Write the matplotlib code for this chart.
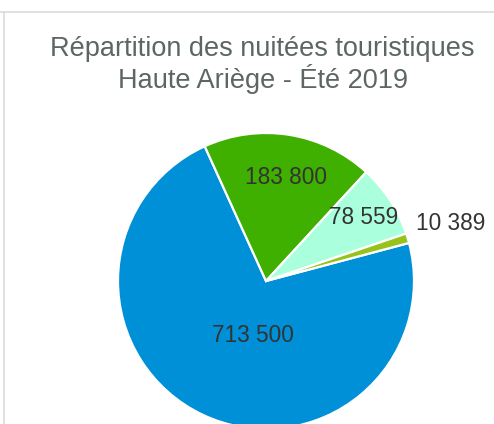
import numpy as np
import matplotlib
matplotlib.use("Agg")
import matplotlib.pyplot as plt

# Data
categories = ["Cat A", "Cat B", "Cat C", "Cat D"]
values = [713500, 183800, 78559, 10389]
labels = ["713 500", "183 800", "78 559", "10 389"]
colors = ["#0090d8", "#3fb000", "#aaffdc", "#97c21c"]
title_lines = ["Répartition des nuitées touristiques", "Haute Ariège - Été 2019"]

# label placement (fraction of radius, angle tweak in degrees ccw)
label_r = [0.37, 0.722, 0.793, 1.312]
label_dang = [11, -1.75, 0.4, 0.9]

W, H = 494, 424
fig = plt.figure(figsize=(W / 100, H / 100), dpi=100)
ax = fig.add_axes([0, 0, 1, 1])

cx, cy, R = 266, H - 281, 148
start = 90 - 75.1  # clockwise start
wedges, _ = ax.pie(values, colors=colors, startangle=start, counterclock=False,
                   center=(cx, cy), radius=R,
                   wedgeprops=dict(edgecolor="white", linewidth=1.6))
ax.set_xlim(0, W)
ax.set_ylim(0, H)
ax.set_aspect("equal")
ax.axis("off")

fs = 16.3
half_digit = 0.358 * fs * 100 / 72
for w, lab, rf, da in zip(wedges, labels, label_r, label_dang):
    mid = np.deg2rad((w.theta1 + w.theta2) / 2 + da)
    x = cx + rf * R * np.cos(mid)
    y = cy + rf * R * np.sin(mid) - half_digit
    ax.text(x, y, lab, ha="center", va="baseline", fontsize=fs,
            color="#333333", family="Liberation Sans")

# title
tc = "#5c6663"
fig.text(262.5 / W, 1 - 56 / H, title_lines[0], ha="center", va="baseline",
         fontsize=19.5, color=tc, family="Liberation Sans")
fig.text(262.5 / W, 1 - 88.3 / H, title_lines[1], ha="center", va="baseline",
         fontsize=19.5, color=tc, family="Liberation Sans")

# frame lines
fig.add_artist(plt.Line2D([0, 1], [1 - 11.5 / H, 1 - 11.5 / H],
                          transform=fig.transFigure, color="#dcdcdc", lw=1.2))
fig.add_artist(plt.Line2D([4 / W, 4 / W], [0, 1 - 11.5 / H],
                          transform=fig.transFigure, color="#dcdcdc", lw=1.2))

fig.savefig("out.png", dpi=100)
